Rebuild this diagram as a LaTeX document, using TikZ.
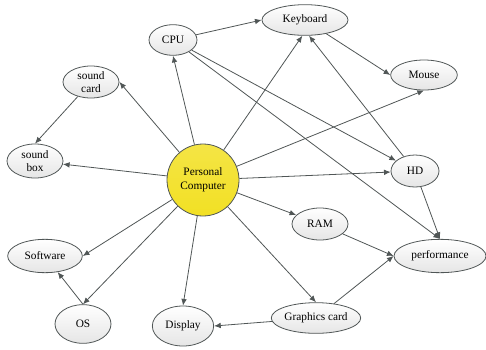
\documentclass[tikz,border=0pt]{standalone}
\usepackage{fontspec}
\setmainfont{Liberation Serif}
\usetikzlibrary{shapes.geometric,arrows.meta}
\definecolor{edgegray}{RGB}{80,86,86}
\definecolor{hubyellow}{RGB}{242,224,36}
\tikzset{
  bubble/.style={ellipse,draw=edgegray,line width=0.6pt,inner sep=0pt,top color=white,bottom color=gray!20,font=\fontsize{8.5}{10}\selectfont,align=center},
  hub/.style={circle,draw=edgegray,line width=0.6pt,inner sep=0pt,minimum size=54pt,top color=hubyellow!85!white,bottom color=hubyellow,font=\fontsize{8.5}{10.5}\selectfont,align=center},
  link/.style={draw=edgegray,line width=0.6pt,-{Latex[length=5pt,width=4.2pt]}}
}
\begin{document}
\begin{tikzpicture}[x=0.75pt,y=0.75pt,yscale=-1,xscale=1]
\useasboundingbox (0,0) rectangle (486,350);

%Shape: Circle
\node [hub] (pc) at (203,180) {Personal\\Computer};

%Shape: Ellipse
\node [bubble,minimum width=36pt,minimum height=23pt] (cpu) at (173,40) {CPU};
\node [bubble,minimum width=42pt,minimum height=24pt] (scard) at (91,82) {sound\\card};
\node [bubble,minimum width=42pt,minimum height=25.5pt] (sbox) at (35,161) {sound\\box};
\node [bubble,minimum width=64.5pt,minimum height=23pt] (kbd) at (305,20) {Keyboard};
\node [bubble,minimum width=50pt,minimum height=22.5pt] (mouse) at (424,75) {Mouse};
\node [bubble,minimum width=36pt,minimum height=24pt] (hd) at (415,171) {HD};
\node [bubble,minimum width=42pt,minimum height=24pt] (ram) at (320,224) {RAM};
\node [bubble,minimum width=69pt,minimum height=25pt] (perf) at (440,256) {performance};
\node [bubble,minimum width=66pt,minimum height=23pt] (gcard) at (316,318) {Graphics card};
\node [bubble,minimum width=46pt,minimum height=30pt] (disp) at (183,326) {Display};
\node [bubble,minimum width=42pt,minimum height=29pt] (os) at (83,324) {OS};
\node [bubble,minimum width=56pt,minimum height=25pt] (soft) at (45,256) {Software};

%Straight Lines
\foreach \dst in {cpu.south,scard.east,sbox,hd,ram,gcard.north,disp.north,soft.east,os.north}
  \draw [link] (pc) -- (\dst);
\draw [link] (pc) -- ([xshift=-2]kbd.south);
\draw [link] (pc) -- (mouse.south);
\draw [link] (scard) -- (sbox.north);
\draw [link] (os.north) -- (soft);
\draw [link] (cpu) -- (kbd.west);
\draw [link] (cpu) -- (hd);
\draw [link] (cpu) -- (perf.north);
\draw [link] (kbd) -- (mouse.west);
\draw [link] (hd) -- ([xshift=3]kbd.south);
\draw [link] (hd) -- (perf.north);
\draw [link] (ram) -- (perf.west);
\draw [link] (gcard) -- (perf.west);
\draw [link] (gcard) -- (disp.east);

\end{tikzpicture}
\end{document}
